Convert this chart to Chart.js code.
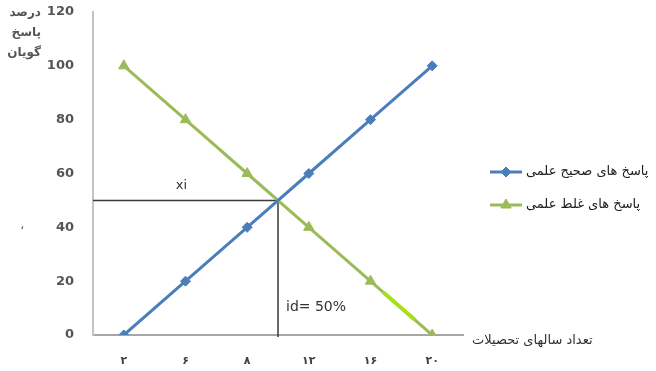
<!DOCTYPE html>
<html lang="fa">
<head>
<meta charset="utf-8">
<script src="https://cdn.jsdelivr.net/npm/chart.js@4/dist/chart.umd.min.js"></script>
<style>
  body { margin: 0; background: #fff; }
  #wrap { width: 656px; height: 371px; }
</style>
</head>
<body>
<div id="wrap"><canvas id="chart" width="656" height="371"></canvas></div>
<script>
// data
const years = ['۲', '۶', '۸', '۱۲', '۱۶', '۲۰'];
const correctAnswers = [0, 20, 40, 60, 80, 100];
const wrongAnswers = [100, 80, 60, 40, 20, 0];
const seriesNames = ['پاسخ های صحیح علمی', 'پاسخ های غلط علمی'];
const yTitleLines = ['درصد', 'پاسخ', 'گویان'];
const xTitle = 'تعداد سالهای تحصیلات';
const crossLabel = 'xi';
const idLabel = 'id= 50%';
// stretch of the green line that is highlighted (category index range)
const highlightRange = [4.22, 4.7];

const BLUE = '#4a7ebb';
const GREEN = '#9bbb59';
const FONT = "'DejaVu Sans', sans-serif";

// where the two series cross, as fractional category index + value
function findCrossing(a, b) {
    for (let i = 0; i < a.length - 1; i++) {
        const d0 = a[i] - b[i];
        const d1 = a[i + 1] - b[i + 1];
        if (d0 === 0) return { x: i, y: a[i] };
        if (d0 * d1 < 0) {
            const t = d0 / (d0 - d1);
            return { x: i + t, y: a[i] + t * (a[i + 1] - a[i]) };
        }
    }
    return null;
}

function valueAt(series, idx) {
    const i = Math.min(Math.floor(idx), series.length - 2);
    const t = idx - i;
    return series[i] + t * (series[i + 1] - series[i]);
}

const cross = findCrossing(correctAnswers, wrongAnswers);

const extras = {
    id: 'extras',
    beforeDatasetsDraw(chart) {
        const { ctx, scales: { x, y } } = chart;
        if (!cross) return;
        const cx = x.getPixelForValue(cross.x);
        const cy = y.getPixelForValue(cross.y);
        ctx.save();
        ctx.strokeStyle = '#3a3a3a';
        ctx.lineWidth = 1.5;
        ctx.beginPath();
        ctx.moveTo(x.left, cy);
        ctx.lineTo(cx, cy);
        ctx.moveTo(cx, cy);
        ctx.lineTo(cx, y.bottom + 2);
        ctx.stroke();

        ctx.fillStyle = '#333';
        ctx.font = '13px ' + FONT;
        ctx.textAlign = 'center';
        ctx.textBaseline = 'middle';
        ctx.fillText(crossLabel, (x.left + cx) / 2 - 4, cy - 15);
        ctx.font = '14px ' + FONT;
        ctx.textAlign = 'left';
        ctx.fillText(idLabel, cx + 8, y.bottom - 28);
        ctx.restore();
    },
    afterDatasetsDraw(chart) {
        const { ctx, scales: { x, y } } = chart;
        ctx.save();
        ctx.strokeStyle = '#a6e01c';
        ctx.lineWidth = 4;
        ctx.lineCap = 'round';
        ctx.beginPath();
        ctx.moveTo(x.getPixelForValue(highlightRange[0]), y.getPixelForValue(valueAt(wrongAnswers, highlightRange[0])));
        ctx.lineTo(x.getPixelForValue(highlightRange[1]), y.getPixelForValue(valueAt(wrongAnswers, highlightRange[1])));
        ctx.stroke();
        ctx.restore();
    },
    afterDraw(chart) {
        const { ctx, scales: { x, y } } = chart;
        ctx.save();
        ctx.fillStyle = '#555555';
        ctx.textBaseline = 'middle';

        // y axis title, stacked
        ctx.font = 'bold 12px ' + FONT;
        ctx.textAlign = 'right';
        yTitleLines.forEach((line, i) => ctx.fillText(line, 41, 13 + i * 20));

        // stray mark left of the axis
        ctx.font = '12px ' + FONT;
        ctx.fillText('،', 24, 226);

        // x axis title
        ctx.font = '13px ' + FONT;
        ctx.textAlign = 'left';
        ctx.fillStyle = '#303030';
        ctx.fillText(xTitle, x.right + 9, y.bottom + 6);

        // legend
        const items = [
            { name: seriesNames[0], color: BLUE, style: 'rectRot', r: 5, yy: 172 },
            { name: seriesNames[1], color: GREEN, style: 'triangle', r: 6, yy: 205 }
        ];
        items.forEach(it => {
            ctx.strokeStyle = it.color;
            ctx.lineWidth = 3;
            ctx.beginPath();
            ctx.moveTo(490, it.yy);
            ctx.lineTo(522, it.yy);
            ctx.stroke();
            ctx.fillStyle = it.color;
            ctx.lineWidth = 1;
            Chart.helpers.drawPoint(ctx, { pointStyle: it.style, radius: it.r, rotation: 0, borderWidth: 1 }, 506, it.yy);
            ctx.fillStyle = '#202020';
            ctx.font = '13px ' + FONT;
            ctx.fillText(it.name, 526, it.yy);
        });
        ctx.restore();
    }
};

new Chart(document.getElementById('chart'), {
    type: 'line',
    data: {
        labels: years,
        datasets: [
            {
                label: seriesNames[0],
                data: correctAnswers,
                borderColor: BLUE,
                backgroundColor: BLUE,
                borderWidth: 3,
                pointStyle: 'rectRot',
                pointRadius: 5,
                pointBorderWidth: 1,
                tension: 0
            },
            {
                label: seriesNames[1],
                data: wrongAnswers,
                borderColor: GREEN,
                backgroundColor: GREEN,
                borderWidth: 3,
                pointStyle: 'triangle',
                pointRadius: 6,
                pointBorderWidth: 1,
                tension: 0
            }
        ]
    },
    options: {
        responsive: false,
        animation: false,
        devicePixelRatio: 1,
        layout: { padding: { top: 12, right: 193, bottom: 0, left: 0 } },
        scales: {
            x: {
                offset: true,
                grid: { display: false, drawTicks: false },
                border: { display: true, color: '#a6a6a6', width: 2 },
                ticks: { color: '#404040', font: { family: FONT, size: 11, weight: 'bold' }, padding: 20 },
                afterFit: (s) => { s.height = 36; s.paddingLeft = 0; s.paddingRight = 0; }
            },
            y: {
                min: 0,
                max: 120,
                grid: { display: false, drawTicks: false },
                border: { display: true, color: '#c4c4c4', width: 2 },
                ticks: { stepSize: 20, color: '#555555', font: { family: FONT, size: 13, weight: 'bold' }, padding: 19 },
                afterFit: (s) => { s.width = 93; s.paddingTop = 0; s.paddingBottom = 0; }
            }
        },
        plugins: {
            legend: { display: false },
            tooltip: { enabled: false }
        }
    },
    plugins: [extras]
});
</script>
</body>
</html>
